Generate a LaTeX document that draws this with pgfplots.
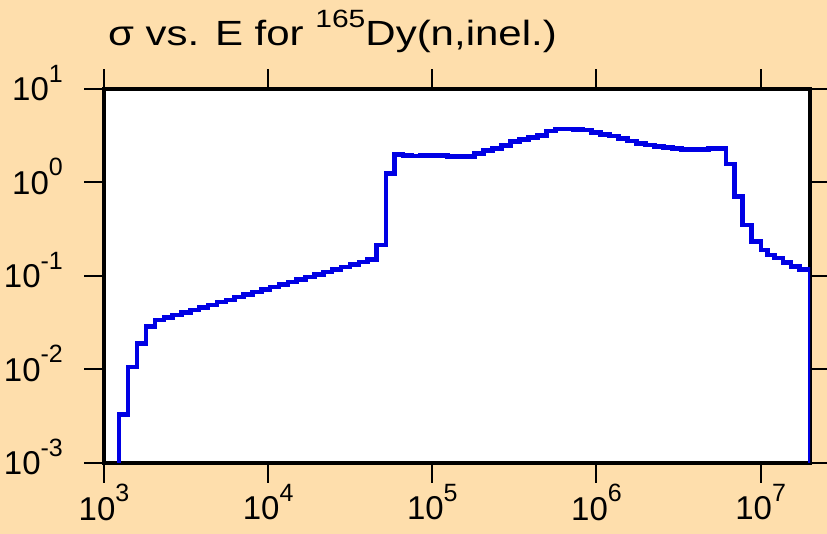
\documentclass[border=0pt]{standalone}
\usepackage{pgfplots}
\pgfplotsset{compat=1.18}
\usepackage{fontspec}
\setmainfont{Liberation Sans}
\newfontfamily\titlefont[FakeStretch=1.2]{Liberation Sans}
\definecolor{bgc}{RGB}{254,222,172}
\definecolor{lc}{RGB}{0,0,228}
\newcommand\ex[1]{\raisebox{18.5pt}{\fontsize{25}{25}\selectfont #1}}
\newcommand\tl[1]{10\ex{#1}}
\begin{document}
\begin{tikzpicture}
\path[use as bounding box, fill=bgc] (0,0) rectangle (827pt,534pt);
\begin{axis}[
  at={(104pt,71pt)}, anchor=south west, scale only axis,
  width=706pt, height=374pt,
  xmode=log, ymode=log,
  xmin=1e3, xmax=2e7, ymin=1e-3, ymax=10,
  axis background/.style={fill=white},
  axis line style={line width=4pt, black},
  tick align=outside, major tick length=20pt, minor tick length=0pt,
  every tick/.style={black, line width=2pt},
  every minor tick/.style={draw=none},
  xtick={1e3,1e4,1e5,1e6,1e7},
  ytick={1e-3,1e-2,1e-1,1,10},
  minor xtick={}, minor ytick={},
  xtick pos=both, ytick pos=both,
  xticklabels={\tl{3},\tl{4},\tl{5},\tl{6},\tl{7}},
  yticklabels={\tl{-3},\tl{-2},\tl{-1},\tl{0},\tl{1}},
  ticklabel style={font=\fontsize{33}{38}\selectfont, inner sep=2pt},
  xticklabel style={yshift=1pt},
  yticklabel style={xshift=-19pt, yshift=6pt},
  clip=true,
]
\addplot[const plot, color=lc, line width=4.5pt] coordinates {
(1230,0.0001)
(1230,0.0033)
(1403,0.0107)
(1592,0.019)
(1799,0.0288)
(2042,0.0339)
(2312,0.0361)
(2618,0.0384)
(2965,0.0408)
(3357,0.0435)
(3802,0.0462)
(4305,0.0492)
(4875,0.0524)
(5521,0.0557)
(6252,0.0593)
(7079,0.0631)
(8017,0.0671)
(9078,0.0715)
(10280,0.0760)
(11641,0.0809)
(13183,0.0861)
(14928,0.0916)
(16904,0.0975)
(19143,0.1038)
(21677,0.1104)
(24547,0.1175)
(27797,0.1250)
(31477,0.1330)
(35645,0.1416)
(40365,0.1507)
(45709,0.215)
(52240,1.25)
(58884,2.00)
(66069,1.935)
(74930,1.920)
(85000,1.944)
(96430,1.954)
(109370,1.935)
(124060,1.906)
(140740,1.887)
(159650,1.906)
(181130,2.052)
(205480,2.189)
(233100,2.322)
(264430,2.475)
(300000,2.732)
(340410,2.897)
(386100,3.044)
(438030,3.167)
(496940,3.554)
(563780,3.734)
(639450,3.734)
(725470,3.689)
(823000,3.643)
(933710,3.443)
(1059300,3.277)
(1201600,3.144)
(1363200,2.955)
(1546600,2.779)
(1754500,2.613)
(1990400,2.518)
(2258000,2.427)
(2561700,2.368)
(2906000,2.310)
(3296100,2.265)
(3739400,2.243)
(4242300,2.265)
(4812800,2.299)
(5460000,2.299)
(6166000,1.58)
(6934000,0.705)
(7780000,0.351)
(8831000,0.233)
(10070000,0.190)
(11040000,0.168)
(12130000,0.155)
(13650000,0.139)
(15350000,0.126)
(17220000,0.118)
(20000000,0.0001)
};
\end{axis}
\node[anchor=base west, inner sep=0pt, font=\titlefont\fontsize{35}{40}\selectfont] at (108pt,488pt) {σ vs. E for \raisebox{18pt}{\fontsize{25}{25}\selectfont 165}Dy(n,inel.)};
\end{tikzpicture}
\end{document}
